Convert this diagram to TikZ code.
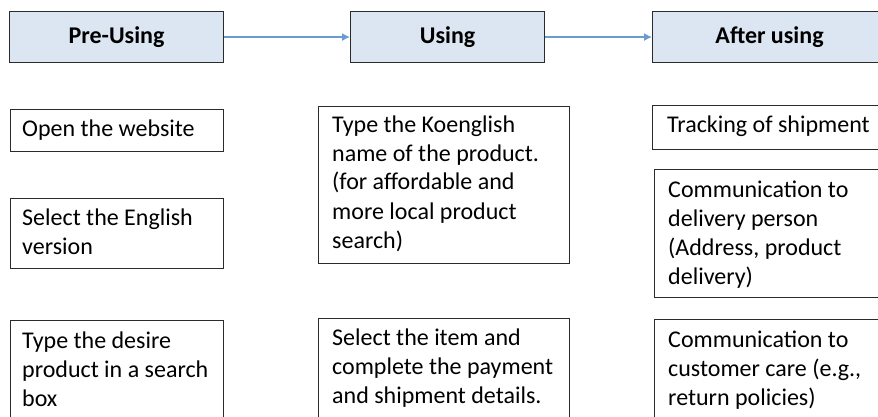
\documentclass[tikz,border=0pt]{standalone}
\usepackage{fontspec}
\setmainfont{Carlito}
\usetikzlibrary{arrows.meta,calc}
\definecolor{hdrfill}{HTML}{DCE6F2}
\definecolor{arrowc}{HTML}{6A9BD1}
\definecolor{edge}{HTML}{2B2B2B}
\tikzset{
  hdr/.style={draw=edge, line width=1.1pt, fill=hdrfill, anchor=north west, inner sep=0pt,
              font=\fontsize{24}{29}\selectfont\bfseries},
  stepbox/.style={draw=edge, line width=1.1pt, anchor=north west, inner sep=0pt},
  boxtext/.style={anchor=base west, inner sep=0pt, font=\fontsize{24}{29}\selectfont},
  flow/.style={draw=arrowc, line width=1.3pt, -{Latex[length=8pt,width=8pt]}}
}
\newcommand{\steptext}[1]{\parbox[t]{320pt}{\raggedright #1}}
\begin{document}
\begin{tikzpicture}[x=1pt,y=-1pt]
\useasboundingbox (0,0) rectangle (878,417);
\clip (0,0) rectangle (878,417);
% headers
\node[hdr, minimum width=214pt, minimum height=51pt] (pre) at (9,11) {Pre-Using};
\node[hdr, minimum width=194pt, minimum height=51pt] (use) at (350,11) {Using};
\node[hdr, minimum width=234pt, minimum height=51pt] (aft) at (652,11) {After using};
\draw[flow] (pre.east) -- (use.west);
\draw[flow] (use.east) -- (aft.west);
% left column
\node[stepbox, minimum width=213pt, minimum height=42pt] (l1) at (10,109) {};
\node[boxtext] (l1t) at ($(l1.north west)+(12,27)$) {\steptext{Open the website}};
\node[stepbox, minimum width=213pt, minimum height=70pt] (l2) at (10,198) {};
\node[boxtext] (l2t) at ($(l2.north west)+(12,27)$) {\steptext{Select the English\\version}};
\node[stepbox, minimum width=213pt, minimum height=130pt] (l3) at (10,320) {};
\node[boxtext] (l3t) at ($(l3.north west)+(12,28)$) {\steptext{Type the desire\\product in a search\\box}};
% middle column
\node[stepbox, minimum width=251pt, minimum height=157pt] (m1) at (318,106) {};
\node[boxtext] (m1t) at ($(m1.north west)+(14,26)$) {\steptext{Type the Koenglish\\name of the product.\\(for affordable and\\more local product\\search)}};
\node[stepbox, minimum width=251pt, minimum height=130pt] (m2) at (318,318) {};
\node[boxtext] (m2t) at ($(m2.north west)+(14,27)$) {\steptext{Select the item and\\complete the payment\\and shipment details.}};
% right column
\node[stepbox, minimum width=250pt, minimum height=44pt] (r1) at (652,105) {};
\node[boxtext] (r1t) at ($(r1.north west)+(15,28)$) {\steptext{Tracking of shipment}};
\node[stepbox, minimum width=250pt, minimum height=128pt] (r2) at (654,169) {};
\node[boxtext] (r2t) at ($(r2.north west)+(14,28)$) {\steptext{Communication to\\delivery person\\(Address, product\\delivery)}};
\node[stepbox, minimum width=250pt, minimum height=130pt] (r3) at (654,319) {};
\node[boxtext] (r3t) at ($(r3.north west)+(14,28)$) {\steptext{Communication to\\customer care (e.g.,\\return policies)}};
\end{tikzpicture}
\end{document}
